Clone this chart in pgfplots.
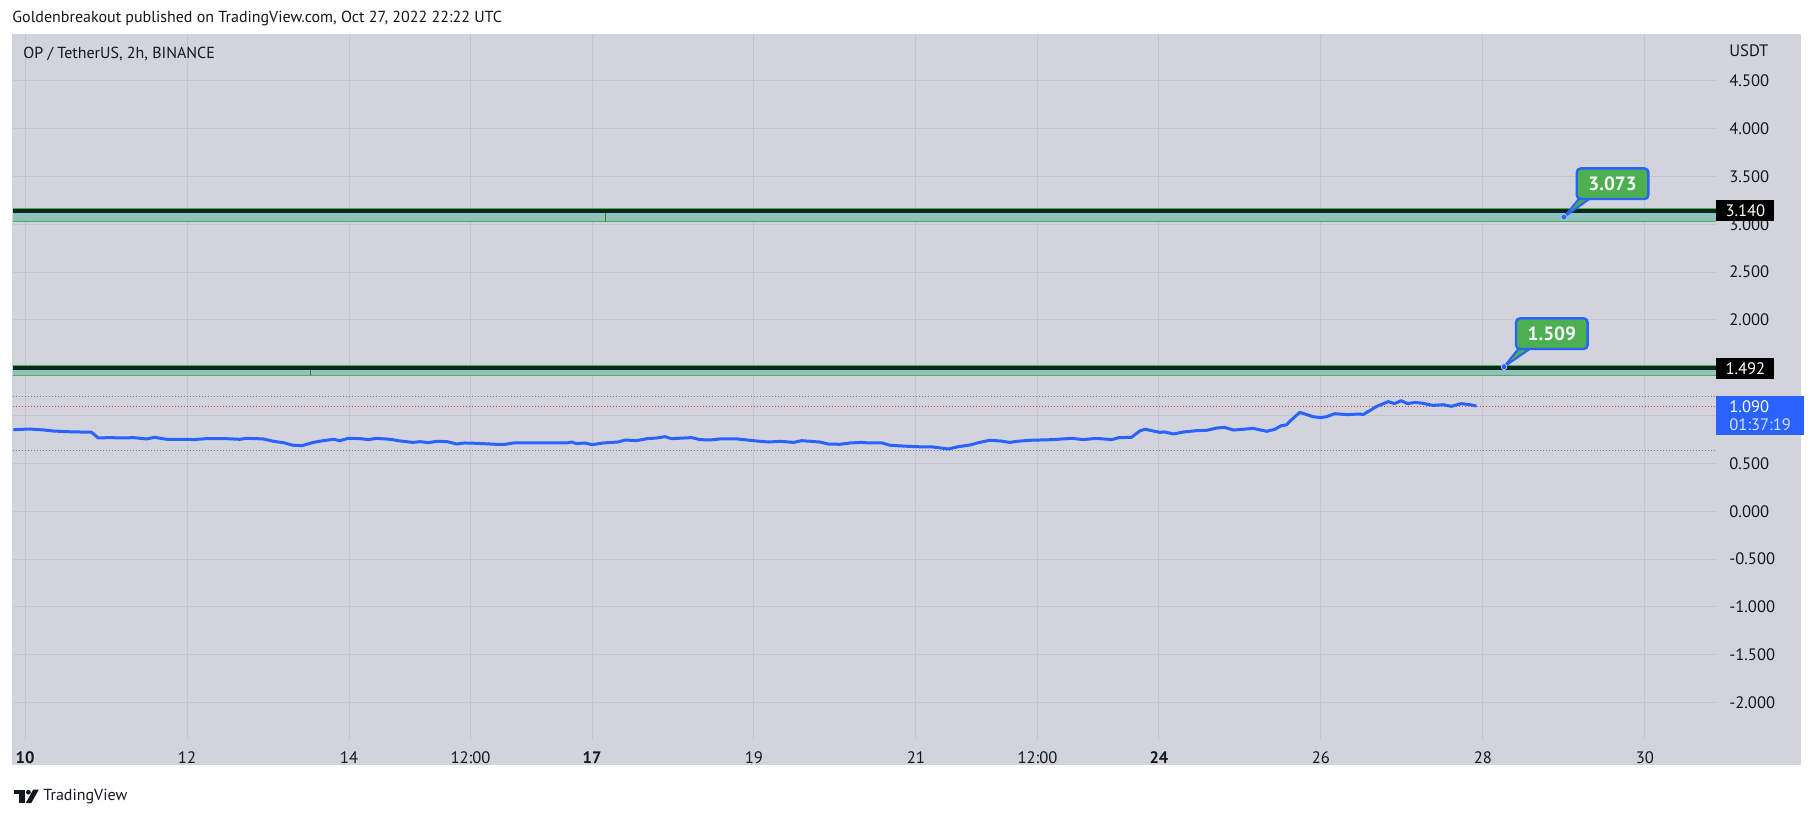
\documentclass[border=0pt]{standalone}
\usepackage{pgfplots}
\pgfplotsset{compat=1.18}
\usepackage{fontspec}
\setmainfont{PT Sans}
\definecolor{panel}{RGB}{209,212,220}
\definecolor{gridc}{RGB}{194,197,206}
\definecolor{tvblue}{HTML}{2962FF}
\definecolor{tvgreen}{HTML}{4CAF50}
\definecolor{zonefill}{RGB}{143,193,190}
\definecolor{zoneline}{RGB}{10,40,30}
\definecolor{tvred}{HTML}{F23645}
\definecolor{dotgray}{HTML}{787B86}
\definecolor{txt}{HTML}{131722}
\newcommand{\tvfont}{\fontsize{8}{9.4}\selectfont}
\newcommand{\scalefont}{\fontsize{8.3}{9.6}\selectfont}
\begin{document}
\begin{tikzpicture}[x=1pt,y=1pt]
\path[use as bounding box, fill=white] (0,0) rectangle (907,409);
\fill[panel] (6,26.5) rectangle (900.5,392);
\node[anchor=west, inner sep=0, text=txt, font=\tvfont] at (6,399.75)
  {Goldenbreakout published on TradingView.com, Oct 27, 2022 22:22 UTC};
% TradingView logo
\fill[txt] (7,12) rectangle (12.4,14.2);
\fill[txt] (9.6,7.4) rectangle (12.4,14.2);
\fill[txt] (14.2,12.9) circle (1.2);
\fill[txt] (16.6,14.2) -- (19.4,14.2) -- (15.6,7.4) -- (12.9,7.4) -- cycle;
\node[anchor=west, inner sep=0, text=txt, font=\tvfont] at (21.5,10.6) {TradingView};

\begin{axis}[
    at={(6.35pt,39pt)}, anchor=south west,
    scale only axis, width=851.65pt, height=353pt,
    xmin=9.848, xmax=30.877, ymin=-2.390, ymax=4.988,
    clip=false,
    axis line style={draw=none},
    tick style={draw=none},
    grid=major,
    grid style={gridc, line width=0.5pt},
    xtick={10,12,14,15.5,17,19,21,22.5,24,26,28,30},
    xticklabels={\textbf{10},12,14,12:00,\textbf{17},19,21,12:00,\textbf{24},26,28,30},
    ytick={-2,-1.5,-1,-0.5,0,0.5,1,1.5,2,2.5,3,3.5,4,4.5},
    yticklabels={-2.000,-1.500,-1.000,-0.500,0.000,0.500,,,2.000,2.500,3.000,3.500,4.000,4.500},
    yticklabel pos=right,
    ticklabel style={font=\scalefont, text=txt},
    xticklabel style={anchor=center, inner sep=0pt, yshift=-9pt},
    yticklabel style={anchor=west, inner sep=0pt, xshift=6.5pt},
]
% zones
\addplot[fill=zonefill, draw=none] coordinates {(9.848,3.026) (30.877,3.026) (30.877,3.162) (9.848,3.162)} -- cycle;
\addplot[fill=zonefill, draw=none] coordinates {(9.848,1.421) (30.877,1.421) (30.877,1.518) (9.848,1.518)} -- cycle;
\addplot[tvgreen, line width=0.6pt] coordinates {(9.848,3.026) (30.877,3.026)};
\addplot[tvgreen, line width=0.6pt] coordinates {(9.848,3.162) (30.877,3.162)};
\addplot[tvgreen, line width=0.6pt] coordinates {(9.848,1.421) (30.877,1.421)};
\addplot[tvgreen, line width=0.6pt] coordinates {(9.848,1.518) (30.877,1.518)};
\addplot[tvgreen!70!black, line width=0.4pt] coordinates {(17.17,3.026) (17.17,3.14)};
\addplot[tvgreen!70!black, line width=0.4pt] coordinates {(13.52,1.421) (13.52,1.495)};
\addplot[zoneline, line width=1.8pt] coordinates {(9.848,3.14) (30.877,3.14)};
\addplot[zoneline, line width=1.8pt] coordinates {(9.848,1.497) (30.877,1.497)};
% price lines
\addplot[dotgray, densely dotted, line width=0.5pt] coordinates {(9.848,1.197) (30.877,1.197)};
\addplot[tvred, densely dotted, line width=0.5pt] coordinates {(9.848,1.097) (30.877,1.097)};
\addplot[dotgray, densely dotted, line width=0.5pt] coordinates {(9.848,0.637) (30.877,0.637)};
% OP/USDT close
\addplot[tvblue, line width=1.5pt, line join=round] coordinates {
(9.856,0.853) (10.06,0.860) (10.23,0.850) (10.35,0.839) (10.51,0.832) (10.82,0.826)
(10.905,0.766) (11.05,0.770) (11.21,0.766) (11.34,0.770) (11.50,0.756) (11.60,0.773)
(11.75,0.752) (12.0,0.752) (12.08,0.749) (12.24,0.759) (12.49,0.759) (12.65,0.752)
(12.74,0.763) (12.94,0.756) (13.07,0.731) (13.19,0.717) (13.31,0.690) (13.42,0.686)
(13.56,0.720) (13.68,0.738) (13.81,0.752) (13.89,0.738) (13.99,0.763) (14.14,0.759)
(14.24,0.749) (14.34,0.763) (14.51,0.752) (14.63,0.735) (14.79,0.720) (14.88,0.728)
(14.98,0.717) (15.08,0.731) (15.21,0.728) (15.33,0.703) (15.43,0.714) (15.58,0.710)
(15.82,0.700) (15.93,0.700) (16.03,0.714) (16.32,0.714) (16.69,0.714) (16.75,0.724)
(16.81,0.707) (16.91,0.714) (17.0,0.696) (17.14,0.714) (17.32,0.724) (17.41,0.745)
(17.55,0.738) (17.68,0.759) (17.80,0.766) (17.90,0.780) (17.98,0.759) (18.23,0.770)
(18.33,0.749) (18.46,0.745) (18.58,0.756) (18.79,0.756) (18.95,0.742) (19.03,0.735)
(19.18,0.724) (19.32,0.731) (19.49,0.720) (19.59,0.738) (19.81,0.724) (19.92,0.703)
(20.06,0.700) (20.19,0.714) (20.33,0.720) (20.41,0.714) (20.58,0.714) (20.68,0.690)
(20.84,0.682) (21.0,0.675) (21.21,0.672) (21.40,0.651) (21.52,0.675) (21.67,0.693)
(21.77,0.717) (21.91,0.742) (22.04,0.735) (22.16,0.720) (22.24,0.731) (22.41,0.742)
(22.70,0.749) (22.92,0.763) (23.06,0.749) (23.19,0.759) (23.27,0.759) (23.42,0.749)
(23.50,0.769) (23.66,0.773) (23.77,0.843) (23.83,0.857) (24.01,0.825) (24.07,0.829)
(24.18,0.808) (24.30,0.829) (24.47,0.843) (24.59,0.846) (24.71,0.870) (24.81,0.877)
(24.92,0.849) (25.04,0.857) (25.16,0.867) (25.33,0.836) (25.43,0.857) (25.51,0.895)
(25.57,0.902) (25.66,0.975) (25.74,1.034) (25.90,0.989) (25.99,0.978) (26.07,0.989)
(26.17,1.020) (26.32,1.010) (26.48,1.017) (26.52,1.010) (26.69,1.097) (26.83,1.146)
(26.91,1.125) (26.99,1.156) (27.07,1.125) (27.16,1.138) (27.26,1.128) (27.38,1.107)
(27.51,1.114) (27.61,1.097) (27.73,1.125) (27.84,1.114) (27.92,1.100)
};
% callouts
\filldraw[fill=tvgreen, draw=tvblue, line width=1pt, line join=round]
  (axis cs:29.20,3.28) -- (axis cs:29.0,3.075) -- (axis cs:29.34,3.28);
\node[fill=tvgreen, draw=tvblue, line width=1.2pt, rounded corners=2pt,
      minimum width=35.8pt, minimum height=15.3pt, inner sep=0pt, text=white,
      font=\bfseries\fontsize{9.6}{11}\selectfont] at (axis cs:29.60,3.423) {3.073};
\addplot[only marks, mark=*, mark size=1.5pt, tvblue, mark options={draw=white!70!tvblue, line width=0.3pt}] coordinates {(29.0,3.075)};
\filldraw[fill=tvgreen, draw=tvblue, line width=1pt, line join=round]
  (axis cs:28.45,1.71) -- (axis cs:28.26,1.511) -- (axis cs:28.60,1.71);
\node[fill=tvgreen, draw=tvblue, line width=1.2pt, rounded corners=2pt,
      minimum width=35.8pt, minimum height=15.3pt, inner sep=0pt, text=white,
      font=\bfseries\fontsize{9.6}{11}\selectfont] at (axis cs:28.85,1.856) {1.509};
\addplot[only marks, mark=*, mark size=1.5pt, tvblue, mark options={draw=white!70!tvblue, line width=0.3pt}] coordinates {(28.26,1.511)};
% price scale labels
\node[anchor=west, fill=black, text=white, inner sep=0pt, minimum width=29pt,
      minimum height=10.4pt, font=\scalefont] at (axis cs:30.877,3.14) {3.140};
\node[anchor=west, fill=black, text=white, inner sep=0pt, minimum width=29pt,
      minimum height=10.4pt, font=\scalefont] at (axis cs:30.877,1.491) {1.492};
\node[anchor=north west, fill=tvblue, text=white, inner xsep=6.5pt, inner ysep=0.6pt,
      minimum width=39.5pt, minimum height=19.4pt, align=left,
      font=\fontsize{8.3}{9.2}\selectfont] at (axis cs:30.877,1.205)
      {1.090\\{\color{white!80!tvblue}01:37:19}};
\node[anchor=west, inner sep=0pt, text=txt, font=\scalefont] at (axis cs:30.877,4.81) {\hspace*{6.5pt}USDT};
\node[anchor=west, inner sep=0pt, text=txt, font=\tvfont] at (axis cs:9.975,4.778) {OP / TetherUS, 2h, BINANCE};
\end{axis}
\end{tikzpicture}
\end{document}
